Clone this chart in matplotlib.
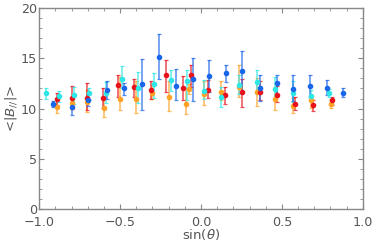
import numpy as np
import matplotlib
matplotlib.use("Agg")
import matplotlib.pyplot as plt
from matplotlib.ticker import MultipleLocator

# sin(theta), mean value, error bar top, error bar bottom
blue_x = [-0.913, -0.80, -0.70, -0.58, -0.474, -0.367, -0.26, -0.155, -0.047,
          0.049, 0.153, 0.256, 0.365, 0.468, 0.571, 0.674, 0.777, 0.88]
blue_y = [10.5, 10.2, 10.9, 11.85, 12.06, 12.46, 15.18, 12.26, 12.96,
          13.26, 13.52, 13.75, 12.06, 12.56, 11.99, 12.23, 12.09, 11.6]
blue_hi = [10.8, 11.0, 11.5, 12.7, 12.5, 14.9, 17.4, 13.95, 15.08,
           14.8, 14.3, 15.7, 13.36, 13.36, 13.3, 13.3, 12.86, 12.0]
blue_lo = [10.2, 9.4, 10.3, 11.0, 11.4, 9.9, 12.9, 10.86, 10.8,
           11.7, 12.66, 11.7, 10.76, 11.36, 10.76, 11.2, 11.4, 11.2]

cyan_x = [-0.96, -0.876, -0.786, -0.69, -0.59, -0.49, -0.39, -0.289, -0.186,
          -0.085, 0.016, 0.122, 0.233, 0.346, 0.456, 0.567, 0.682, 0.794]
cyan_y = [11.53, 11.26, 11.33, 11.56, 11.56, 12.96, 12.09, 12.43, 12.86,
          12.76, 11.8, 11.2, 12.39, 12.66, 11.93, 11.6, 11.3, 11.56]
cyan_hi = [12.0, 11.8, 12.1, 12.0, 12.66, 14.25, 13.6, 13.5, 13.85,
           13.85, 12.86, 12.1, 13.36, 13.8, 13.1, 12.7, 11.86, 11.93]
cyan_lo = [10.96, 10.7, 10.5, 10.86, 10.53, 12.0, 10.6, 11.06, 11.8,
           10.86, 10.96, 10.2, 11.43, 11.43, 10.86, 10.7, 10.7, 11.2]

red_x = [-0.893, -0.80, -0.703, -0.604, -0.511, -0.414, -0.311, -0.214, -0.111,
         -0.06, 0.043, 0.15, 0.256, 0.365, 0.47, 0.581, 0.695, 0.808]
red_y = [10.96, 11.03, 11.1, 11.06, 12.33, 12.13, 11.86, 13.39, 12.06,
         13.39, 11.86, 11.4, 11.66, 11.66, 11.4, 10.5, 10.33, 10.86]
red_hi = [11.53, 12.2, 12.5, 12.0, 13.3, 12.9, 12.7, 14.85, 13.26,
          14.35, 12.8, 12.1, 12.9, 12.7, 12.26, 11.2, 10.86, 11.2]
red_lo = [10.36, 9.97, 9.87, 10.03, 11.2, 11.2, 10.96, 11.7, 10.86,
          12.19, 11.03, 10.43, 10.2, 10.86, 10.7, 9.87, 9.77, 10.36]

orange_x = [-0.889, -0.80, -0.703, -0.6, -0.503, -0.402, -0.3, -0.198, -0.093,
            -0.075, 0.02, 0.126, 0.233, 0.344, 0.456, 0.567, 0.682, 0.802]
orange_y = [10.2, 10.6, 10.7, 10.03, 10.93, 10.96, 11.6, 11.2, 10.5,
            11.93, 11.46, 11.7, 12.13, 11.7, 10.96, 10.27, 10.86, 10.43]
orange_hi = [10.86, 11.1, 11.86, 11.2, 13.1, 12.7, 12.36, 12.7, 12.0,
             12.4, 12.7, 12.7, 14.35, 13.0, 12.13, 11.03, 11.2, 10.86]
orange_lo = [9.53, 10.0, 9.63, 9.14, 9.87, 9.53, 10.96, 9.8, 9.47,
             11.5, 10.36, 10.86, 11.13, 10.26, 9.87, 9.53, 10.03, 10.03]

series = [
    (orange_x, orange_y, orange_lo, orange_hi, "#ffa126"),
    (red_x, red_y, red_lo, red_hi, "#e8121c"),
    (cyan_x, cyan_y, cyan_lo, cyan_hi, "#2ee6e6"),
    (blue_x, blue_y, blue_lo, blue_hi, "#1a66e8"),
]

fig = plt.figure(figsize=(3.74, 2.49), dpi=100)
ax = fig.add_axes([0.105, 0.161, 0.865, 0.806])

for x, y, lo, hi, col in series:
    y = np.array(y)
    err = np.vstack([y - np.array(lo), np.array(hi) - y])
    eb = ax.errorbar(x, y, yerr=err, fmt="o", color=col, ms=3.0,
                     elinewidth=1.1, capsize=1.3, capthick=0.9, zorder=3)
    for c in eb[1]:
        c.set_alpha(0.75)
    for c in eb[2]:
        c.set_alpha(0.75)

ax.set_xlim(-1, 1)
ax.set_ylim(0, 20)
ax.xaxis.set_major_locator(MultipleLocator(0.5))
ax.xaxis.set_minor_locator(MultipleLocator(0.1))
ax.yaxis.set_major_locator(MultipleLocator(5))
ax.yaxis.set_minor_locator(MultipleLocator(1))
ax.xaxis.set_major_formatter(matplotlib.ticker.FuncFormatter(
    lambda v, p: f"{v:.1f}".replace("-", "\u2212")))

gray = "#888888"
for s in ax.spines.values():
    s.set_color(gray)
    s.set_linewidth(1.0)
ax.tick_params(which="both", direction="in", top=True, right=True,
               color=gray, labelcolor="#555555", labelsize=9.2)
ax.tick_params(axis="x", pad=5)
ax.tick_params(axis="y", pad=1.5)
ax.tick_params(which="major", length=3.5, width=0.8)
ax.tick_params(which="minor", length=2, width=0.6)

ax.set_xlabel(r"sin($\theta$)", color="#555555", fontsize=9.5, labelpad=-1)
ax.set_ylabel(r"<|$B_{//}$|>", color="#555555", fontsize=9.5, labelpad=1.5)

fig.savefig("out.png", dpi=100)
